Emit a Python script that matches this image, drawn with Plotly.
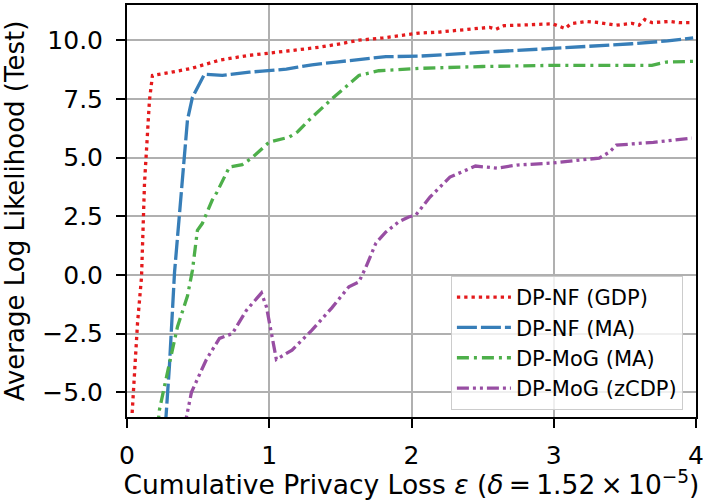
import plotly.graph_objects as go

# DP-NF (GDP)
red_x = [0.03, 0.074, 0.102, 0.123, 0.158, 0.179, 0.3, 0.453, 0.65, 0.85, 1.0, 1.2, 1.35, 1.5, 1.63,
         1.8, 1.92, 2.05, 2.2, 2.4, 2.55, 2.595, 2.65, 2.8, 2.99, 3.08, 3.12, 3.23, 3.32, 3.44, 3.55,
         3.6, 3.64, 3.69, 3.81, 3.88, 3.98]
red_y = [-6.5, -2.05, -0.1, 3.9, 7.45, 8.5, 8.62, 8.8, 9.15, 9.35, 9.45, 9.6, 9.7, 9.85, 10.0,
         10.1, 10.2, 10.3, 10.35, 10.45, 10.55, 10.47, 10.62, 10.65, 10.7, 10.5, 10.7, 10.8, 10.75, 10.64, 10.72,
         10.64, 10.88, 10.75, 10.8, 10.75, 10.75]

# DP-NF (MA)
blue_x = [0.269, 0.277, 0.298, 0.334, 0.369, 0.39, 0.425, 0.46, 0.544, 0.67, 0.79, 0.86, 0.95, 1.12,
          1.2, 1.3, 1.47, 1.65, 1.82, 2.05, 2.3, 2.6, 2.99, 3.3, 3.55, 3.8, 3.98]
blue_y = [-6.5, -5.75, -3.9, 0.1, 2.6, 3.9, 6.6, 7.57, 8.55, 8.5, 8.6, 8.64, 8.68, 8.77,
          8.85, 8.95, 9.07, 9.2, 9.3, 9.32, 9.42, 9.52, 9.65, 9.75, 9.85, 9.97, 10.1]

# DP-MoG (MA)
green_x = [0.215, 0.228, 0.263, 0.298, 0.355, 0.425, 0.46, 0.495, 0.53, 0.6, 0.63, 0.72, 0.81, 0.88,
           1.0, 1.14, 1.2, 1.28, 1.44, 1.63, 1.77, 2.05, 2.5, 2.99, 3.4, 3.69, 3.79, 3.98]
green_y = [-6.5, -5.75, -4.75, -3.75, -2.2, -0.9, 0.2, 1.9, 2.2, 3.2, 3.5, 4.6, 4.7, 5.0,
           5.66, 5.87, 6.1, 6.6, 7.5, 8.5, 8.7, 8.8, 8.88, 8.93, 8.93, 8.93, 9.07, 9.1]

# DP-MoG (zCDP)
purple_x = [0.41, 0.418, 0.453, 0.51, 0.558, 0.65, 0.74, 0.84, 0.945, 0.98, 1.05, 1.16, 1.3, 1.44,
            1.56, 1.63, 1.68, 1.75, 1.82, 1.91, 1.98, 2.03, 2.13, 2.27, 2.45, 2.6, 2.74, 2.99,
            3.32, 3.39, 3.44, 3.7, 3.97]
purple_y = [-6.5, -6.05, -5.0, -4.2, -3.6, -2.7, -2.5, -1.5, -0.77, -1.35, -3.6, -3.2, -2.35, -1.4,
            -0.5, -0.3, 0.34, 1.36, 1.83, 2.26, 2.47, 2.55, 3.32, 4.17, 4.64, 4.55, 4.68, 4.77,
            4.98, 5.23, 5.53, 5.65, 5.83]

names = ["DP-NF (GDP)", "DP-NF (MA)", "DP-MoG (MA)", "DP-MoG (zCDP)"]
colors = ["#e41a1c", "#377eb8", "#4daf4a", "#984ea3"]
dashes = ["3.3px,4px", "20px,4px", "12px,5px,3px,5px", "12px,4px,3px,4px,3px,4px"]

x_ticks = [0, 1, 2, 3, 4]
y_ticks = [-5, -2.5, 0, 2.5, 5, 7.5, 10]
y_tick_text = ["\u22125.0", "\u22122.5", "0.0", "2.5", "5.0", "7.5", "10.0"]

FONT = "DejaVu Sans"
TS = "\u2009"  # thin space

fig = go.Figure()
for xs, ys, n, c, d in zip([red_x, blue_x, green_x, purple_x],
                           [red_y, blue_y, green_y, purple_y], names, colors, dashes):
    fig.add_trace(go.Scatter(x=xs, y=ys, mode="lines", name=n,
                             line=dict(color=c, width=3.3, dash=d)))

axis_common = dict(
    showline=True, mirror=True, linecolor="black", linewidth=2,
    showgrid=True, gridcolor="#b0b0b0", gridwidth=2,
    zeroline=False, ticks="outside", ticklen=9, tickwidth=2, tickcolor="black",
    tickfont=dict(family=FONT, size=25, color="black"),
)

x_title = ("Cumulative Privacy Loss <i>ε</i> (<i>δ</i>" + TS + "=" + TS + "1.52" + TS + "×" + TS +
           "10<sup>−5</sup>)")

fig.update_layout(
    width=703, height=500,
    margin=dict(l=127, r=7, t=5, b=83, autoexpand=False),
    paper_bgcolor="white", plot_bgcolor="white",
    font=dict(family=FONT, color="black"),
    showlegend=True,
    legend=dict(x=0.977, y=0.017, xanchor="right", yanchor="bottom",
                bgcolor="rgba(255,255,255,0.8)", bordercolor="#cccccc", borderwidth=1,
                itemwidth=54,
                font=dict(family=FONT, size=21, color="black"), tracegroupgap=0),
    xaxis=dict(range=[0, 4], tickvals=x_ticks, ticktext=[str(v) for v in x_ticks],
               title=dict(text=x_title, font=dict(family=FONT, size=26.5, color="black"), standoff=3),
               ticklabelstandoff=6, ticklabeloverflow="allow", **axis_common),
    yaxis=dict(range=[-6.05, 11.5], tickvals=y_ticks, ticktext=y_tick_text,
               title=dict(text="Average Log Likelihood (Test)",
                          font=dict(family=FONT, size=26, color="black"), standoff=10),
               ticklabelstandoff=8, **axis_common),
)

fig.write_html("out.html", config={"displayModeBar": False},
               post_script="document.body.style.margin='0';")
